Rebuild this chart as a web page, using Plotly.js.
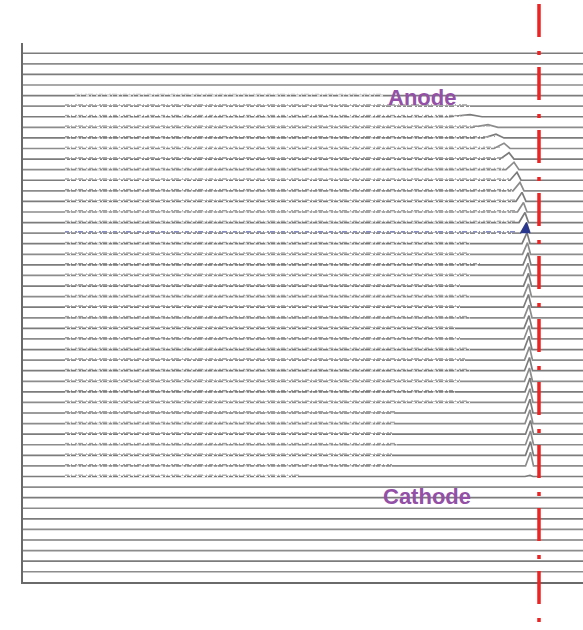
<!DOCTYPE html>
<html>
<head>
<meta charset="utf-8">
<script src="https://cdn.plot.ly/plotly-3.0.1.min.js"></script>
<style>
  html, body { margin: 0; padding: 0; background: #fff; }
  #chart { width: 583px; height: 630px; }
</style>
</head>
<body>
<div id="chart"></div>
<script>
// Stacked scans, listed from the top scan (index 0) down to the bottom scan (index 49).
const channelMax = 560;

// Peak centre (channel), height (in scan spacings) and left/right half-widths for each scan.
const peakPos = [
  0, 0, 0, 0, 0, 0, 447, 465, 473, 481,
  486, 491, 494, 497, 499, 500.5, 502, 503.5, 504, 504.5,
  505, 505, 505.5, 505.5, 505.5, 506, 506, 506, 506, 506.5,
  506.5, 506.5, 507, 507, 507, 507, 507.5, 507.5, 507.5, 507.5,
  507, 0, 0, 0, 0, 0, 0, 0, 0, 0
];
const peakHeight = [
  0, 0, 0, 0, 0, 0, 0.2, 0.25, 0.35, 0.5,
  0.6, 0.7, 0.75, 0.8, 0.85, 0.9, 0.95, 1.0, 1.05, 1.1,
  1.15, 1.15, 1.2, 1.2, 1.2, 1.2, 1.2, 1.25, 1.25, 1.25,
  1.25, 1.25, 1.3, 1.3, 1.3, 1.3, 1.3, 1.3, 1.3, 1.3,
  0.1, 0, 0, 0, 0, 0, 0, 0, 0, 0
];
const peakLeft = [
  0, 0, 0, 0, 0, 0, 20, 16, 12, 10,
  9, 8, 7, 7, 6, 6, 6, 6, 5, 5,
  5, 5, 5, 5, 5, 5, 5, 5, 5, 5,
  5, 5, 5, 5, 5, 5, 5, 5, 5, 5,
  5, 0, 0, 0, 0, 0, 0, 0, 0, 0
];
const peakRight = [
  0, 0, 0, 0, 0, 0, 12, 10, 8, 6,
  5, 5, 4, 4, 4, 3.5, 3.5, 3.5, 3, 3,
  3, 3, 3, 3, 3, 3, 3, 3, 3, 3,
  3, 3, 3, 3, 3, 3, 3, 3, 3, 3,
  3, 0, 0, 0, 0, 0, 0, 0, 0, 0
];

// Channel range of the noisy signal region on each scan (0, 0 where the scan is flat).
const noiseStart = [
  0, 0, 0, 0, 52, 42, 42, 42, 42, 42,
  42, 42, 42, 42, 42, 42, 42, 42, 42, 42,
  42, 42, 42, 42, 42, 42, 42, 42, 42, 42,
  42, 42, 42, 42, 42, 42, 42, 42, 42, 42,
  42, 0, 0, 0, 0, 0, 0, 0, 0, 0
];
const noiseEnd = [
  0, 0, 0, 0, 360, 447, 447, 467, 472, 477,
  482, 482, 487, 489, 492, 492, 494, 494, 447, 447,
  457, 447, 437, 447, 437, 447, 432, 437, 447, 442,
  447, 437, 432, 447, 372, 372, 369, 375, 369, 369,
  277, 0, 0, 0, 0, 0, 0, 0, 0, 0
];

// Scan drawn with a filled peak, and the reference channel marked by the dash-dot line.
const highlightScan = 17;
const markerChannel = 516;

const labels = [
  { text: 'Anode',   x: 398.5, y: 44.8 },
  { text: 'Cathode', x: 403.5, y: 7.1 }
];

const nScans = peakPos.length;
const baseTraces = [], speckTraces = [], gapTraces = [];

for (let k = 0; k < nScans; k++) {
  const off = nScans - 1 - k;
  let xs, ys;
  if (peakHeight[k] > 0) {
    const p = peakPos[k];
    xs = [0, p - peakLeft[k], p, p + peakRight[k], channelMax];
    ys = [off, off, off + peakHeight[k], off, off];
  } else {
    xs = [0, channelMax];
    ys = [off, off];
  }
  baseTraces.push({
    x: xs, y: ys, type: 'scatter', mode: 'lines',
    line: { color: k % 2 ? '#8c8c8c' : '#7c7c7c', width: 1.7 },
    hoverinfo: 'skip'
  });

  if (noiseEnd[k] > noiseStart[k]) {
    const faint = k < 5;
    // white breaks in the baseline where the signal is noisy
    gapTraces.push({
      x: [noiseStart[k], noiseEnd[k]], y: [off - 0.02, off - 0.02],
      type: 'scatter', mode: 'lines',
      line: { color: '#ffffff', width: 1.2, dash: '2px,3px,1px,5px,3px,2px,1px,4px' },
      hoverinfo: 'skip'
    });
    // ragged trace just above the baseline
    speckTraces.push({
      x: [noiseStart[k], noiseEnd[k]], y: [off + 0.13, off + 0.13],
      type: 'scatter', mode: 'lines',
      line: {
        color: k === highlightScan ? '#5a66b0' : (faint ? '#c4c4c4' : '#9a9a9a'),
        width: 1, dash: '4px,2px,1px,3px,2px,1px,5px,3px,1px,2px'
      },
      hoverinfo: 'skip'
    });
  }
}

// Filled peak on the highlighted scan
const fillTrace = (() => {
  const k = highlightScan, off = nScans - 1 - k, p = peakPos[k];
  return {
    x: [p - peakLeft[k], p, p + peakRight[k]],
    y: [off, off + peakHeight[k], off],
    type: 'scatter', mode: 'lines', fill: 'toself',
    fillcolor: '#29378f', line: { color: '#29378f', width: 1 },
    hoverinfo: 'skip'
  };
})();

const traces = baseTraces.concat(gapTraces, speckTraces, [fillTrace]);

const layout = {
  width: 583, height: 630,
  margin: { l: 23, r: 0, t: 43, b: 48 },
  paper_bgcolor: '#ffffff', plot_bgcolor: '#ffffff',
  showlegend: false,
  xaxis: {
    range: [0, channelMax], showgrid: false, zeroline: false,
    showticklabels: false, ticks: '', showline: true,
    linecolor: '#6a6a6a', linewidth: 2
  },
  yaxis: {
    range: [-0.97, 49.97], showgrid: false, zeroline: false,
    showticklabels: false, ticks: '', showline: true,
    linecolor: '#6a6a6a', linewidth: 2
  },
  shapes: [{
    type: 'line', xref: 'paper', yref: 'paper',
    x0: markerChannel / channelMax, x1: markerChannel / channelMax,
    y0: 1.0724, y1: -0.09,
    line: { color: '#ee2222', width: 3.5, dash: '33px,14px,4px,12px' }
  }],
  annotations: labels.map(l => ({
    text: l.text, x: l.x, y: l.y, xref: 'x', yref: 'y',
    xanchor: 'center', yanchor: 'middle', showarrow: false,
    font: { family: 'Liberation Sans, Arial, sans-serif', size: 22, color: '#9350a6', weight: 'bold' }
  }))
};

Plotly.newPlot('chart', traces, layout, { staticPlot: true, displayModeBar: false });
</script>
</body>
</html>
